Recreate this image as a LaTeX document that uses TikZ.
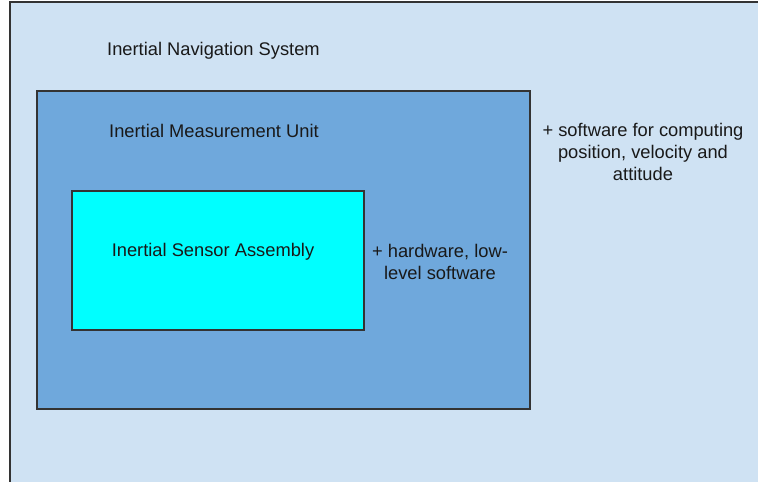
\documentclass[tikz,border=0pt]{standalone}
\usepackage{fontspec}
\setmainfont{Liberation Sans}
\usepackage{tikz}
\usetikzlibrary{positioning}
\definecolor{insback}{HTML}{CFE2F3}
\definecolor{imuback}{HTML}{6FA8DC}
\definecolor{isaback}{HTML}{00FFFF}
\tikzset{
    layer/.style={draw=black!80, line width=1.6pt},
    caption/.style={font=\fontsize{18.3}{22}\selectfont, text=black!90, inner sep=0pt},
    note/.style={caption, align=center}
}

\begin{document}
\begin{tikzpicture}[x=1pt, y=-1pt]
    \useasboundingbox (0,0) rectangle (758,482);
    \fill[white] (0,0) rectangle (758,482);
    \draw[layer, fill=insback] (10,2) rectangle (770,495);
    \draw[layer, fill=imuback] (37,91) rectangle (530,409);
    \draw[layer, fill=isaback] (72,191) rectangle (364,330);

    \node[caption, anchor=west] (ins) at (107,51) {Inertial Navigation System};
    \node[caption, anchor=west] (imu) at (109,131) {Inertial Measurement Unit};
    \node[caption] (isa) at (213,252) {Inertial Sensor Assembly};

    \node[note] (hw) at (440,262) {+ hardware, low-\\level software};
    \node[note] (sw) at (643,152) {+ software for computing\\position, velocity and\\attitude};
\end{tikzpicture}
\end{document}
